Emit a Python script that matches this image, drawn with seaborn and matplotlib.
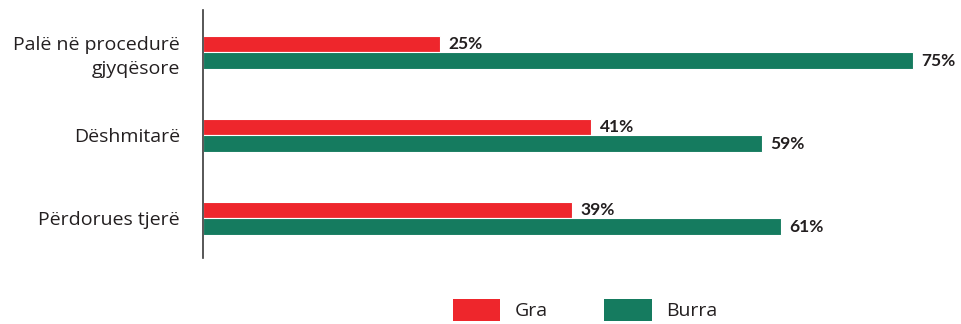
import matplotlib
matplotlib.use("Agg")
import matplotlib.pyplot as plt
from matplotlib.patches import Patch
import seaborn as sns
import pandas as pd

# Categories and shares (%) by gender
categories = ["Palë në procedurë\ngjyqësore", "Dëshmitarë", "Përdorues tjerë"]
series_names = ["Gra", "Burra"]
gra = [25, 41, 39]
burra = [75, 59, 61]

colors = ["#EE262C", "#157B5F"]
text_color = "#231F20"

df = pd.DataFrame({
    "kategoria": categories * 2,
    "gjinia": [series_names[0]] * 3 + [series_names[1]] * 3,
    "vlera": gra + burra,
})

sns.set_style("white")
plt.rcParams["font.family"] = ["Open Sans", "DejaVu Sans"]

W, H = 961, 324
fig = plt.figure(figsize=(W / 100, H / 100), dpi=100)
ax = fig.add_axes([203 / W, 1 - 258 / H, (W - 203) / W, 248 / H])

sns.barplot(data=df, y="kategoria", x="vlera", hue="gjinia", orient="h",
            palette=colors, saturation=1, width=0.39, gap=0.0,
            edgecolor="white", linewidth=0.8, ax=ax, legend=False)

ax.set_xlim(0, (W - 203) / 9.47)
ax.set_ylim(2.476, -0.512)
ax.set_xlabel("")
ax.set_ylabel("")
ax.set_xticks([])
ax.tick_params(axis="y", length=0, pad=16.5, labelsize=14, labelcolor=text_color)
for lbl in ax.get_yticklabels():
    lbl.set_horizontalalignment("right")
    lbl.set_multialignment("right")
    lbl.set_linespacing(1.4)

for side in ["top", "right", "bottom"]:
    ax.spines[side].set_visible(False)
ax.spines["left"].set_color("#3a3a3a")
ax.spines["left"].set_linewidth(1.2)

for cont in ax.containers:
    texts = ax.bar_label(cont, labels=[f"{int(v)}%" for v in cont.datavalues],
                         padding=6, color=text_color, clip_on=False)
    for t in texts:
        t.set_fontfamily(["Lato", "DejaVu Sans"])
        t.set_fontweight("bold")
        t.set_fontsize(12.5)

handles = [Patch(facecolor=c, edgecolor="none") for c in colors]
fig.legend(handles, series_names, loc="lower center", bbox_to_anchor=(0.609, -0.045),
           ncol=2, frameon=False, fontsize=14, handlelength=2.45, handleheight=1.4,
           handletextpad=0.75, columnspacing=2.9, labelcolor=text_color)

fig.savefig("out.png", dpi=100)
